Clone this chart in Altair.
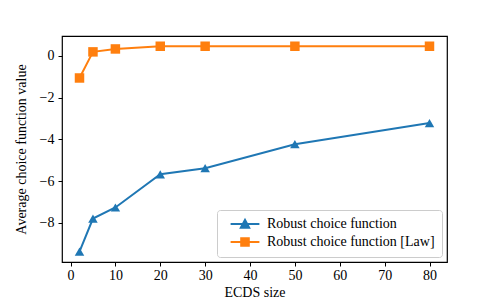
import altair as alt
import pandas as pd

ecds_size = [2, 5, 10, 20, 30, 50, 80]
robust = [-9.37, -7.79, -7.26, -5.67, -5.38, -4.23, -3.22]
robust_law = [-1.06, 0.19, 0.33, 0.46, 0.46, 0.46, 0.46]
series_names = ["Robust choice function", "Robust choice function [Law]"]

rows = []
for x, y in zip(ecds_size, robust):
    rows.append({"size": x, "value": y, "series": series_names[0]})
for x, y in zip(ecds_size, robust_law):
    rows.append({"size": x, "value": y, "series": series_names[1]})
df = pd.DataFrame(rows)

FONT = "Liberation Serif"
FS = 14
colors = ["#1f77b4", "#ff7f0e"]

xenc = alt.X("size:Q", title="ECDS size",
             scale=alt.Scale(domain=[-1.9, 83.9], nice=False, zero=False),
             axis=alt.Axis(values=list(range(0, 81, 10)), grid=False, domain=False,
                           tickSize=4, tickColor="black", labelColor="black",
                           labelFont=FONT, labelFontSize=FS, titleFont=FONT,
                           titleFontSize=FS, titleFontWeight="normal",
                           titleColor="black", labelPadding=2, titlePadding=3))
yenc = alt.Y("value:Q", title="Average choice function value",
             scale=alt.Scale(domain=[-9.87, 0.95], nice=False, zero=False),
             axis=alt.Axis(values=[-8, -6, -4, -2, 0], grid=False, domain=False,
                           tickSize=4, tickColor="black", labelColor="black",
                           labelFont=FONT, labelFontSize=FS, titleFont=FONT,
                           titleFontSize=FS, titleFontWeight="normal",
                           titleColor="black", labelPadding=4, titlePadding=11))
cscale = alt.Scale(domain=series_names, range=colors)

base = alt.Chart(df)
line = base.mark_line(strokeWidth=2).encode(
    x=xenc, y=yenc, color=alt.Color("series:N", scale=cscale, legend=None))

marker_kind = "datum.series == '" + series_names[0] + "' ? 'triangle-up' : 'square'"
pts = base.transform_calculate(marker=marker_kind).mark_point(
    filled=True, opacity=1, size=90).encode(
    x="size:Q", y="value:Q",
    color=alt.Color("series:N", scale=cscale, legend=None),
    shape=alt.Shape("marker:N", scale=None))

tri_path = "M-3.6,0 L3.6,0 M-1.05,0.95 L0,-1.05 L1.05,0.95 Z"
sq_path = "M-3.6,0 L3.6,0 M-0.95,-0.95 L0.95,-0.95 L0.95,0.95 L-0.95,0.95 Z"
leg = alt.Legend(title=None, orient="bottom-right")
legend_layer = base.transform_filter("datum.size < 0").mark_point(filled=True).encode(
    x="size:Q", y="value:Q",
    color=alt.Color("series:N", scale=cscale, legend=leg),
    stroke=alt.Stroke("series:N", scale=cscale, legend=leg),
    shape=alt.Shape("series:N", scale=alt.Scale(domain=series_names, range=[tri_path, sq_path]),
                    legend=leg))

chart = alt.layer(legend_layer, line, pts).resolve_legend(
    color="independent", shape="independent", stroke="independent"
).properties(
    width=385, height=226,
    background="white",
    autosize=alt.AutoSizeParams(type="none"),
    padding={"left": 54, "top": 28, "right": 43, "bottom": 37},
).configure_view(stroke="black", strokeWidth=1.2).configure_legend(
    labelFont=FONT, labelFontSize=FS, labelColor="black", labelLimit=300,
    symbolSize=64, symbolStrokeWidth=2, symbolOpacity=1,
    strokeColor="#cccccc", fillColor="white", cornerRadius=3,
    padding=7, offset=5, rowPadding=2, labelOffset=15, symbolOffset=14,
)

chart.save("out.html", embed_options={"renderer": "svg", "actions": False})
